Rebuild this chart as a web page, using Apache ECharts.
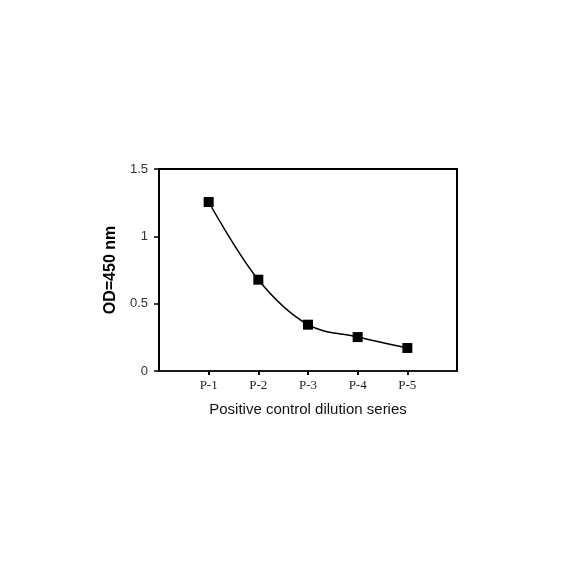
<!DOCTYPE html>
<html><head><meta charset="utf-8">
<script src="https://cdn.jsdelivr.net/npm/echarts@6/dist/echarts.min.js"></script>
<style>html,body{margin:0;padding:0;background:#fff}#c{width:584px;height:584px}</style>
</head><body><div id="c"></div>
<script>
const categories = ['', 'P-1', 'P-2', 'P-3', 'P-4', 'P-5', ''];
const pointNames = ['P-1', 'P-2', 'P-3', 'P-4', 'P-5'];
const odValues = [1.255, 0.678, 0.344, 0.252, 0.171];
const yTicks = [0, 0.5, 1, 1.5];

const chart = echarts.init(document.getElementById('c'));
chart.setOption({
  animation: false,
  backgroundColor: '#fff',
  grid: { left: 159, top: 169, right: 127, bottom: 213, show: true, borderColor: '#000', borderWidth: 2, containLabel: false },
  xAxis: {
    type: 'category', data: categories, boundaryGap: false,
    name: 'Positive control dilution series', nameLocation: 'middle', nameGap: 31,
    nameTextStyle: { fontFamily: 'Liberation Sans', fontSize: 15, color: '#111' },
    axisLine: { lineStyle: { color: '#222', width: 1.5 } },
    axisTick: { show: true, length: 4, interval: (i) => i >= 1 && i <= 5, lineStyle: { color: '#000', width: 2 } },
    axisLabel: { interval: 0, fontFamily: 'Liberation Serif', fontSize: 13, color: '#222', margin: 8 },
    splitLine: { show: false }
  },
  yAxis: {
    type: 'value', min: 0, max: 1.5, interval: 0.5,
    name: 'OD=450 nm', nameLocation: 'middle', nameGap: 35,
    nameTextStyle: { fontFamily: 'Liberation Sans', fontSize: 16, fontWeight: 'bold', color: '#000' },
    axisLine: { show: true, lineStyle: { color: '#000', width: 2 } },
    axisTick: { show: true, length: 5, lineStyle: { color: '#000', width: 1.5 } },
    axisLabel: { fontFamily: 'Liberation Sans', fontSize: 13, color: '#333', margin: 11,
      formatter: (v) => yTicks.includes(v) ? String(v) : '' },
    splitLine: { show: false }
  },
  series: [{
    type: 'line',
    data: pointNames.map((n, i) => [n, odValues[i]]),
    smooth: 0.35,
    symbol: 'rect', symbolSize: 10,
    itemStyle: { color: '#000' },
    lineStyle: { color: '#000', width: 1.5 }
  }]
});
</script></body></html>
